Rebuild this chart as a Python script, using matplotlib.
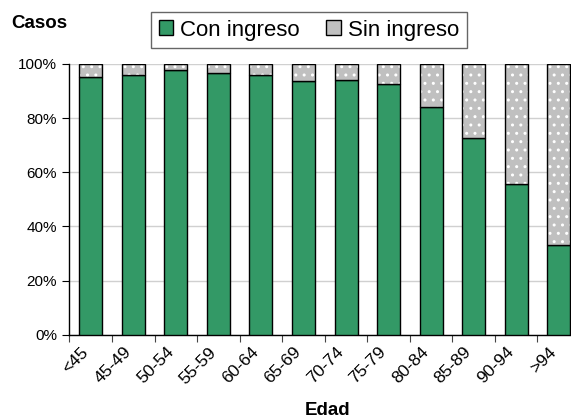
import matplotlib
matplotlib.use("Agg")
import matplotlib.pyplot as plt
import matplotlib.transforms as mtransforms
from matplotlib.patches import Patch
import numpy as np

plt.rcParams['font.family'] = ['Liberation Sans', 'DejaVu Sans']
plt.rcParams['hatch.linewidth'] = 1.0

edades = ['<45', '45-49', '50-54', '55-59', '60-64', '65-69',
          '70-74', '75-79', '80-84', '85-89', '90-94', '>94']
con_ingreso = [95.3, 95.9, 97.6, 96.5, 95.9, 93.8, 94.2, 92.6, 84.1, 72.7, 55.7, 33.0]
sin_ingreso = [100 - v for v in con_ingreso]

verde = '#339966'
gris = '#c0c0c0'

fig = plt.figure(figsize=(5.71, 4.19), dpi=100)
ax = fig.add_axes([0.1217, 0.2012, 0.8941, 0.6461])

x = np.arange(len(edades))
w = 0.54

ax.bar(x, con_ingreso, w, color=verde, edgecolor='black', linewidth=1, zorder=3)
# gris con puntos blancos, luego el contorno negro encima
ax.bar(x, sin_ingreso, w, bottom=con_ingreso, color=gris, edgecolor='white',
       linewidth=0, hatch='..', zorder=3)
ax.bar(x, sin_ingreso, w, bottom=con_ingreso, fill=False, edgecolor='black',
       linewidth=1, zorder=4)

ax.set_xlim(-0.5, len(edades) - 0.5)
ax.set_ylim(0, 100)
ax.set_yticks(range(0, 101, 20))
ax.set_yticklabels([f'{v}%' for v in range(0, 101, 20)])
ax.yaxis.grid(True, color='#d0d0d0', linewidth=1, zorder=0)

ax.set_xticks(np.arange(-0.5, len(edades), 1))
ax.set_xticklabels([])
ax.set_xticks(x, minor=True)
ax.set_xticklabels(edades, minor=True)
ax.tick_params(axis='x', which='minor', length=0, pad=7, labelsize=12.5,
               labelrotation=45)
ax.tick_params(axis='x', which='major', length=5, color='#444444')
ax.tick_params(axis='y', length=5, pad=4, labelsize=11)

shift = mtransforms.ScaledTranslation(-10 / 100, 0, fig.dpi_scale_trans)
for lab in ax.get_xticklabels(minor=True):
    lab.set_horizontalalignment('right')
    lab.set_rotation_mode('anchor')
    lab.set_transform(lab.get_transform() + shift)

for s in ['top', 'right']:
    ax.spines[s].set_visible(False)
ax.spines['left'].set_linewidth(1)
ax.spines['bottom'].set_linewidth(1)

handles = [Patch(facecolor=verde, edgecolor='black', label='Con ingreso'),
           Patch(facecolor=gris, edgecolor='black', label='Sin ingreso')]
leg = fig.legend(handles=handles, loc='center', bbox_to_anchor=(0.541, 0.928),
                 ncol=2, fontsize=16, frameon=True, fancybox=False,
                 handlelength=0.65, handleheight=0.65, handletextpad=0.3,
                 columnspacing=1.2, borderpad=0.35)
leg.get_frame().set_edgecolor('#404040')
leg.get_frame().set_linewidth(1)

fig.text(11 / 571, 1 - 24 / 419, 'Casos', ha='left', va='center',
         fontsize=13.5, fontweight='bold')
fig.text(327.5 / 571, 1 - 410 / 419, 'Edad', ha='center', va='center',
         fontsize=13.5, fontweight='bold')

fig.savefig('out.png', dpi=100)
